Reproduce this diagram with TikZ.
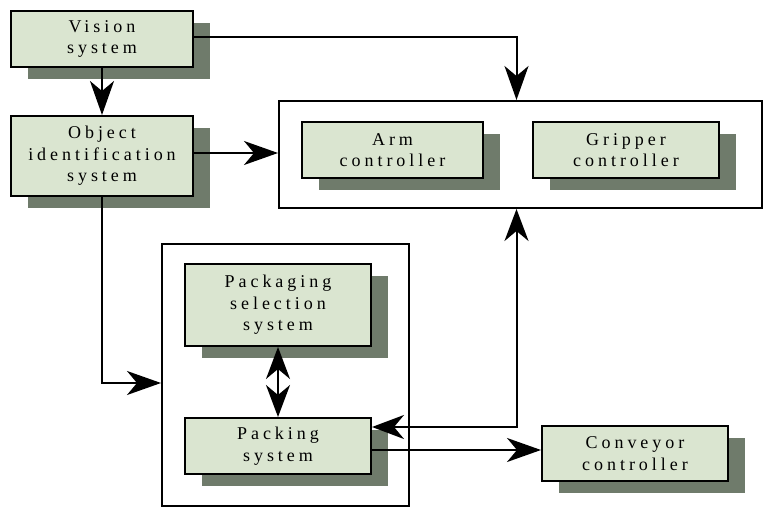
\documentclass[tikz,border=0pt]{standalone}
\usepackage{fontspec}
\setmainfont{Liberation Serif}
\newfontfamily\boxfont[LetterSpace=22]{Liberation Serif}
\usetikzlibrary{arrows.meta,shadows}
\definecolor{boxgreen}{RGB}{218,229,208}
\definecolor{shadowgreen}{RGB}{111,123,107}
\begin{document}
\begin{tikzpicture}[
  x=0.5pt, y=-0.5pt,
  unit/.style={rectangle, draw, line width=1pt, fill=boxgreen, font=\boxfont\fontsize{9}{10.8}\selectfont, align=center, inner sep=0pt,
    drop shadow={shadow xshift=8.5pt, shadow yshift=-6pt, fill=shadowgreen, opacity=1}},
  group/.style={rectangle, draw, line width=1pt, inner sep=0pt},
  arrow/.style={-{Stealth[length=17pt, width=12pt, inset=5pt]}, line width=1pt},
  twoway/.style={{Stealth[length=16pt, width=12pt, inset=5pt]}-{Stealth[length=16pt, width=12pt, inset=5pt]}, line width=1pt}
]
\useasboundingbox (0,0) rectangle (776,518);

% Left column
\node[unit, minimum width=91pt, minimum height=28pt] (vision) at (102,39) {Vision\\system};
\node[unit, minimum width=91pt, minimum height=40pt] (object) at (102,156) {Object\\identification\\system};

% Controllers group
\node[group, minimum width=241.5pt, minimum height=53.5pt] (ctrlgroup) at (520.5,154.5) {};
\node[unit, minimum width=90.5pt, minimum height=28pt] (arm) at (392.5,150) {Arm\\controller};
\node[unit, minimum width=93pt, minimum height=28pt] (gripper) at (626,150) {Gripper\\controller};

% Packaging group
\node[group, minimum width=123.5pt, minimum height=131pt] (packgroup) at (285.5,375) {};
\node[unit, minimum width=93pt, minimum height=41pt] (selection) at (278,305) {Packaging\\selection\\system};
\node[unit, minimum width=93pt, minimum height=28pt] (packing) at (278,446) {Packing\\system};

% Conveyor
\node[unit, minimum width=93pt, minimum height=27.5pt] (conveyor) at (635,453.5) {Conveyor\\controller};

% Arrows
\draw[arrow] (vision) -- (object);
\draw[arrow] ([yshift=1pt]vision.east) -| ([xshift=-2pt]ctrlgroup.north);
\draw[arrow] ([yshift=1.5pt]object.east) -- ([yshift=1.5pt]object.east -| ctrlgroup.west);
\draw[arrow] (object.south) |- ([yshift=-4pt]packgroup.west);
\draw[twoway] (selection) -- (packing);
\draw[twoway] ([yshift=9.5pt]packing.east) -| ([xshift=-2pt]ctrlgroup.south);
\draw[arrow] ([yshift=-2pt]packing.east) -- ([yshift=-2pt]packing.east -| conveyor.west);

\end{tikzpicture}
\end{document}
